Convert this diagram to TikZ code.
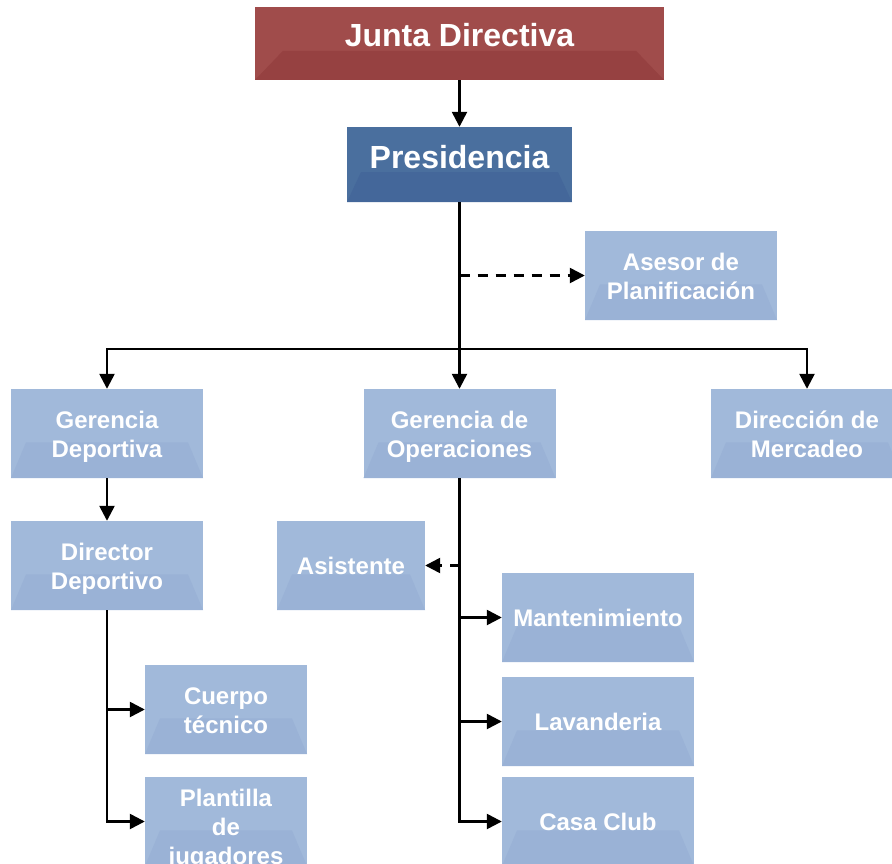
\documentclass[tikz,border=0pt]{standalone}
\usepackage{fontspec}
\setmainfont{Liberation Sans}
\usetikzlibrary{arrows.meta,calc}
\definecolor{juntared}{RGB}{160,76,75}
\definecolor{juntadark}{RGB}{150,65,65}
\definecolor{presblue}{RGB}{74,111,158}
\definecolor{presdark}{RGB}{68,103,154}
\definecolor{unitblue}{RGB}{161,185,218}
\definecolor{unitdark}{RGB}{154,178,214}

\begin{document}
\begin{tikzpicture}[
  x=1pt,y=-1pt,
  font=\bfseries\fontsize{24}{29}\selectfont,
  bevel/.style 2 args={path picture={
    \fill[#1] let \p1=(path picture bounding box.south west),
      \p2=(path picture bounding box.north east) in
      (\x1,\y1) -- (\x1+#2,{\y1+0.4*(\y2-\y1)}) -- (\x2-#2,{\y1+0.4*(\y2-\y1)}) -- (\x2,\y1) -- cycle;}},
  unit/.style={fill=unitblue,bevel={unitdark}{15pt},text=white,align=center,inner sep=0pt,
    minimum width=192pt,minimum height=89pt,text height=18pt,text depth=0pt},
  twolines/.style={text height=48pt},
  topbox/.style={text=white,inner sep=0pt,font=\bfseries\fontsize{32}{38}\selectfont},
  connection/.style={-{Triangle[length=15pt,width=15pt]},line width=2.5pt},
  advice/.style={connection,dash pattern=on 10pt off 8pt}
]
  \clip (0,0) rectangle (892,864);

  \node[topbox,fill=juntared,bevel={juntadark}{28pt},minimum width=409pt,minimum height=73pt,
    text height=20pt,text depth=14pt] (junta) at (459.5,43.5) {Junta Directiva};
  \node[topbox,fill=presblue,bevel={presdark}{14pt},minimum width=225pt,minimum height=75pt,
    text height=21pt,text depth=13pt] (presidencia) at (459.5,164.5) {Presidencia};
  \draw[connection] (junta) -- (presidencia);

  \node[unit,twolines] (asesor) at (681,275.5) {Asesor de\\Planificación};
  \node[unit,twolines] (gdeportiva) at (107,433.5) {Gerencia\\Deportiva};
  \node[unit,twolines] (operaciones) at (459.5,433.5) {Gerencia de\\Operaciones};
  \node[unit,twolines] (mercadeo) at (807,433.5) {Dirección de\\Mercadeo};
  \coordinate (bus) at (459.5,349);
  \coordinate (asesorjoin) at (459.5,275.5);
  \draw[connection] (presidencia) -- (operaciones);
  \draw[connection] (bus) -| (gdeportiva);
  \draw[connection] (bus) -| (mercadeo);
  \draw[advice] (asesorjoin) -- (asesor);

  \node[unit,twolines] (ddeportivo) at (107,565.5) {Director\\Deportivo};
  \node[unit,twolines,minimum width=162pt] (cuerpo) at (226,709.5) {Cuerpo\\técnico};
  \node[unit,minimum width=162pt,text height=86pt] (plantilla) at (226,821.5) {Plantilla\\de\\jugadores};
  \draw[connection] (gdeportiva) -- (ddeportivo);
  \draw[connection] (ddeportivo) |- (plantilla);
  \draw[connection] (ddeportivo.south |- cuerpo) -- (cuerpo);

  \node[unit,minimum width=148pt] (asistente) at (351,565.5) {Asistente};
  \node[unit] (mantenimiento) at (598,617.5) {Mantenimiento};
  \node[unit] (lavanderia) at (598,721.5) {Lavanderia};
  \node[unit] (casaclub) at (598,821.5) {Casa Club};
  \draw[connection] (operaciones) |- (casaclub);
  \draw[connection] (operaciones.south |- mantenimiento) -- (mantenimiento);
  \draw[connection] (operaciones.south |- lavanderia) -- (lavanderia);
  \draw[advice] (operaciones.south |- asistente) -- (asistente);
\end{tikzpicture}
\end{document}
